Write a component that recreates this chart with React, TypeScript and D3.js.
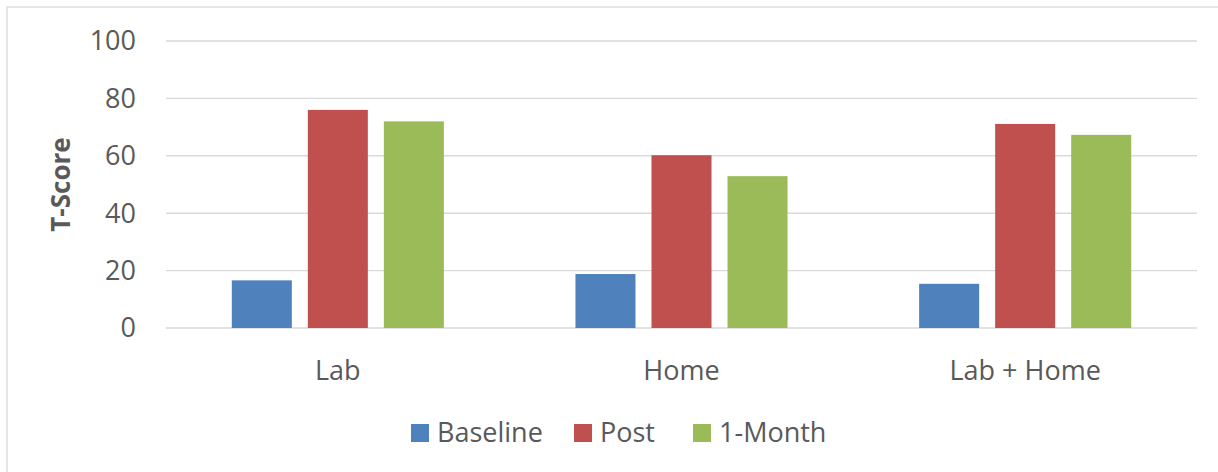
import React from "react";
import * as d3 from "d3";

const categories = ["Lab", "Home", "Lab + Home"];
const seriesNames = ["Baseline", "Post", "1-Month"];
const baseline = [16.6, 18.8, 15.4];
const post = [76.0, 60.2, 71.1];
const oneMonth = [72.0, 52.9, 67.3];
const yTicks = [0, 20, 40, 60, 80, 100];
const seriesColors = ["#4f81bd", "#c0504d", "#9bbb59"];

const W = 1218;
const H = 472;
const plot = { left: 166, right: 1197, top: 41, bottom: 328 };
const FONT = "'Open Sans', 'Noto Sans', sans-serif";
const TEXT = "#595959";
const GRID = "#d9d9d9";

export default function App() {
  const values = [baseline, post, oneMonth];

  const y = d3.scaleLinear().domain([0, 100]).range([plot.bottom, plot.top]);
  const x0 = d3.scaleBand<string>().domain(categories).range([plot.left, plot.right]);
  const groupPad = 65.8;
  const x1 = d3
    .scaleBand<string>()
    .domain(seriesNames)
    .range([groupPad, x0.bandwidth() - groupPad])
    .paddingInner(16 / 76)
    .paddingOuter(0);

  // legend layout: swatch left edges
  const legendX = [411, 574, 693];
  const legendY = 433;

  return (
    <svg
      width={W}
      height={H}
      style={{ position: "absolute", left: 0, top: 0, background: "#fff" }}
      fontFamily={FONT}
    >
      <rect x={0} y={0} width={W} height={H} fill="#fff" />
      {/* chart frame */}
      <rect x={7} y={7} width={W + 10} height={H + 10} fill="none" stroke={GRID} strokeWidth={1.3} />

      {/* gridlines and y tick labels */}
      {yTicks.map((t) => (
        <g key={t}>
          <line x1={plot.left} x2={plot.right} y1={y(t)} y2={y(t)} stroke={GRID} strokeWidth={1.4} />
          <text
            x={136}
            y={y(t)}
            dy="0.35em"
            textAnchor="end"
            fontSize={27}
            fill={TEXT}
          >
            {t}
          </text>
        </g>
      ))}

      {/* bars */}
      {categories.map((c, ci) => (
        <g key={c} transform={`translate(${x0(c)},0)`}>
          {seriesNames.map((s, si) => {
            const v = values[si][ci];
            return (
              <rect
                key={s}
                x={x1(s)}
                y={y(v)}
                width={x1.bandwidth()}
                height={y(0) - y(v)}
                fill={seriesColors[si]}
              />
            );
          })}
          <text
            x={x0.bandwidth() / 2}
            y={380}
            textAnchor="middle"
            fontSize={27}
            fill={TEXT}
          >
            {c}
          </text>
        </g>
      ))}

      {/* y-axis title */}
      <text
        transform={`translate(70,${(plot.top + plot.bottom) / 2}) rotate(-90)`}
        textAnchor="middle"
        fontSize={26}
        fontWeight="bold"
        fill={TEXT}
      >
        T-Score
      </text>

      {/* legend */}
      {seriesNames.map((s, i) => (
        <g key={s}>
          <rect x={legendX[i]} y={legendY - 9} width={18} height={18} fill={seriesColors[i]} />
          <text x={legendX[i] + 26} y={legendY} dy="0.35em" fontSize={27} fill={TEXT}>
            {s}
          </text>
        </g>
      ))}
    </svg>
  );
}
